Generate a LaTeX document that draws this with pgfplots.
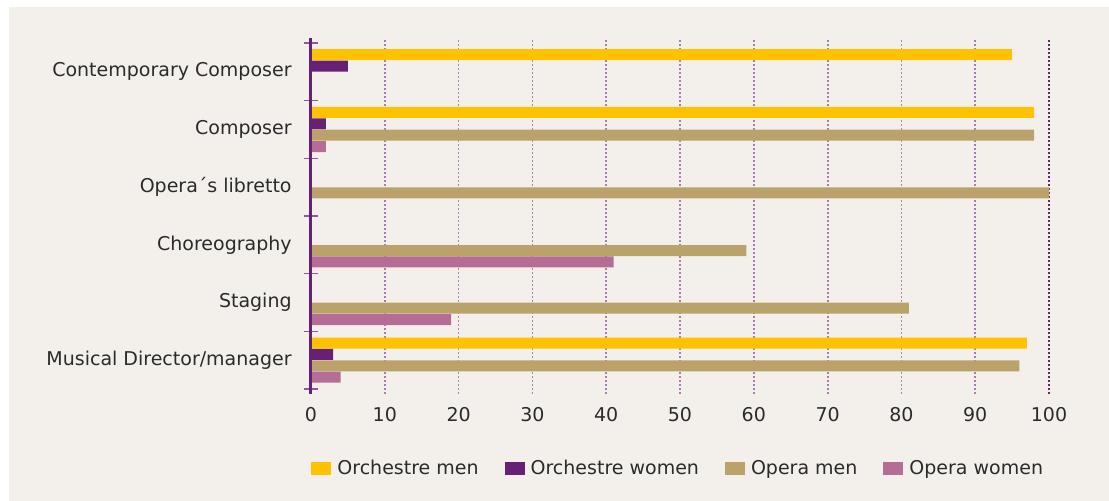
\documentclass[border=0pt]{standalone}
\usepackage{pgfplots}
\pgfplotsset{compat=1.18}
\usepackage{fontspec}
\setmainfont{DejaVu Sans}
\definecolor{bgbeige}{RGB}{243,240,236}
\definecolor{cyellow}{RGB}{255,194,0}
\definecolor{cpurple}{RGB}{102,33,117}
\definecolor{ctan}{RGB}{187,162,107}
\definecolor{cpink}{RGB}{181,108,149}
\definecolor{gridpurple}{RGB}{168,124,178}
\definecolor{darkgrid}{RGB}{95,40,105}
\definecolor{tickpurple}{RGB}{140,90,155}
\definecolor{txt}{RGB}{43,43,43}
\begin{document}
\begin{tikzpicture}
\useasboundingbox (0,0) rectangle (554.5pt,250.5pt);
\fill[white] (0,0) rectangle (554.5pt,250.5pt);
\fill[bgbeige] (4.5pt,0) rectangle (554.5pt,247pt);
\begin{axis}[
  at={(155.5pt,53.5pt)}, anchor=south west,
  scale only axis, width=369pt, height=178pt,
  xbar, bar width=5.5pt,
  xmin=0, xmax=100,
  ymin=-0.587, ymax=5.587,
  axis lines*=left,
  x axis line style={draw=none},
  y axis line style={draw=cpurple, line width=1.5pt, -},
  xtick={0,10,...,90},
  extra x ticks={100},
  extra x tick style={major x grid style={darkgrid, line width=0.9pt, dash pattern=on 1pt off 1pt}},
  xmajorgrids,
  major x grid style={gridpurple, line width=0.9pt, dash pattern=on 1pt off 1pt},
  ytick={0,...,5},
  yticklabels={Musical Director/manager, Staging, Choreography, Opera´s libretto, Composer, Contemporary Composer},
  minor ytick={-0.5,0.5,...,5.5},
  major tick length=0pt,
  minor tick length=6.5pt,
  tick align=center,
  minor tick style={draw=tickpurple, line width=0.75pt},
  /pgf/number format/assume math mode=true,
  tick label style={font=\fontsize{9.5pt}{11pt}\selectfont, text=txt},
  yticklabel style={anchor=east, inner sep=0pt, xshift=-9.5pt},
  xticklabel style={anchor=center, inner sep=0pt, yshift=-10.5pt},
  legend columns=4,
  legend style={draw=none, fill=none, at={(0,-0.2107)}, anchor=west, xshift=-3pt,
    font=\fontsize{9.5pt}{11pt}\selectfont, text=txt,
    nodes={inner sep=0pt},
    /tikz/column sep=3pt,
    /tikz/every even column/.append style={column sep=13pt}},
  legend image code/.code={\fill[#1] (0pt,-3.25pt) rectangle (10pt,3.25pt);},
  after end axis/.code={\draw[cpurple, line width=1.5pt] (rel axis cs:0,0) -- (rel axis cs:0,1);},
]
\addplot[fill=cyellow, draw=none, bar shift=8.55pt] coordinates {(95,5) (98,4) (97,0)};
\addlegendentry{Orchestre men}
\addplot[fill=cpurple, draw=none, bar shift=2.85pt] coordinates {(5,5) (2,4) (3,0)};
\addlegendentry{Orchestre women}
\addplot[fill=ctan, draw=none, bar shift=-2.85pt] coordinates {(98,4) (100,3) (59,2) (81,1) (96,0)};
\addlegendentry{Opera men}
\addplot[fill=cpink, draw=none, bar shift=-8.55pt] coordinates {(2,4) (41,2) (19,1) (4,0)};
\addlegendentry{Opera women}
\end{axis}
\end{tikzpicture}
\end{document}
